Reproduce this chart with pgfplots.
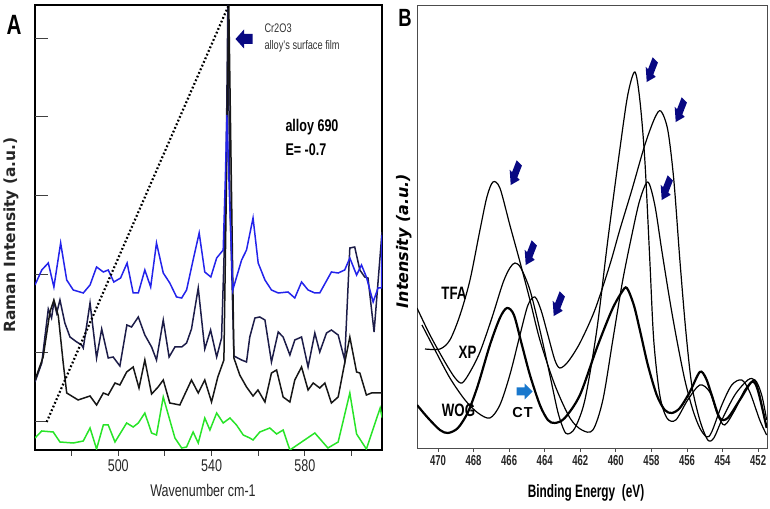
\documentclass[border=0pt]{standalone}
\usepackage{pgfplots}
\pgfplotsset{compat=1.18}
\usepackage{fontspec}
\setmainfont{Liberation Sans}
\newfontfamily\cn[FakeStretch=0.74]{Liberation Sans}
\newfontfamily\cnn[FakeStretch=0.66]{Liberation Sans}
\newfontfamily\djv{DejaVu Sans}
\definecolor{cblue}{RGB}{35,35,235}
\definecolor{cnavy}{RGB}{28,28,72}
\definecolor{cblack}{RGB}{22,22,22}
\definecolor{cgreen}{RGB}{40,228,40}
\definecolor{arrnavy}{RGB}{8,8,130}
\definecolor{arrlight}{RGB}{25,120,205}
\tikzset{
  navyarrow/.pic={\fill[arrnavy] (-13,-5) -- (1,-5) -- (1,-9.5) -- (13,0) -- (1,9.5) -- (1,5) -- (-13,5) -- cycle;},
  leftarrow/.pic={\fill[arrnavy] (8.5,-5) -- (0,-5) -- (0,-9.5) -- (-8.5,0) -- (0,9.5) -- (0,5) -- (8.5,5) -- cycle;},
  lightarrow/.pic={\fill[arrlight] (-8,-4) -- (0,-4) -- (0,-8) -- (8,0) -- (0,8) -- (0,4) -- (-8,4) -- cycle;}
}
\begin{document}
\begin{tikzpicture}[x=1bp,y=1bp]
\path[use as bounding box] (0,0) rectangle (770,509);
% ---------------- Panel A ----------------
\begin{axis}[at={(35bp,59bp)}, anchor=south west, scale only axis,
  width=347bp, height=445bp,
  xmin=464.3, xmax=613.1, ymin=0, ymax=445,
  axis line style={line width=1.3bp, black},
  xtick={480,500,...,600}, xticklabels={,500,,540,,580,},
  x tick label style={font=\cn\fontsize{17}{17}\selectfont, text=black!85},
  tick align=outside, xtick pos=left, ytick pos=left, major tick length=6bp,
  every tick/.style={black!75, line width=1bp},
  ytick=\empty,
  extra y ticks={28,97,175,254,333,411}, extra y tick labels={},
  extra y tick style={tick align=inside, major tick length=13bp},
  clip=true]
\addplot[cnavy, line width=1.5bp] coordinates {
(464.3,68)(467.2,87)(470.0,141)(471.4,132)(472.4,148)(473.6,137)(475.0,150)(477.1,127)(479.3,113)(482.2,108)(484.3,105)(485.0,102)(487.9,147)(490.7,92)(492.9,121)(495.7,92)(497.8,93)(500.7,84)(503.7,125)(505.7,123)(508.6,133)(511.4,115)(514.3,103)(516.4,90)(519.3,130)(521.8,93)(524.3,103)(527.2,103)(529.3,107)(531.4,121)(534.3,162)(537.1,101)(539.6,120)(542.2,93)(544.3,112)(546.1,250)(547.0,445)(547.9,250)(549.6,94)(552.9,90)(555.0,88)(556.4,113)(558.6,132)(560.7,133)(562.9,130)(565.7,88)(568.6,118)(570.7,113)(573.6,95)(575.7,110)(578.6,113)(581.4,83)(584.3,117)(586.4,98)(589.3,117)(591.4,120)(594.3,115)(597.1,90)(599.3,202)(601.4,203)(603.6,180)(605.7,173)(607.1,172)(609.7,118)(613.1,218)};
\addplot[cblack, line width=1.5bp] coordinates {
(464.3,70)(467.8,93)(470.7,138)(472.4,150)(474.3,134)(476.4,87)(477.9,57)(482.8,50)(487.9,54)(490.7,45)(493.6,57)(495.7,55)(498.6,67)(500.7,65)(503.6,78)(506.4,83)(508.9,62)(511.4,90)(514.3,56)(517.1,63)(519.3,70)(522.1,47)(526.4,45)(531.4,70)(534.3,57)(537.1,70)(540.0,48)(542.7,73)(545.3,90)(546.6,300)(547.4,445)(548.3,300)(549.6,92)(552.1,75)(555.0,63)(557.8,54)(559.9,60)(562.9,48)(565.7,77)(567.9,80)(570.7,53)(573.6,48)(575.7,70)(578.6,83)(581.4,60)(583.6,67)(586.4,62)(588.6,67)(591.4,47)(594.3,53)(597.1,87)(599.3,113)(602.2,78)(603.6,77)(606.4,55)(608.6,57)(613.1,57)};
\addplot[cblue, line width=1.5bp] coordinates {
(464.3,165)(467.2,180)(470.0,187)(472.4,163)(475.3,207)(477.9,170)(480.7,160)(485.0,157)(487.9,165)(490.7,183)(493.6,178)(495.7,180)(498.1,168)(501.0,172)(503.8,187)(506.4,157)(508.6,157)(511.4,180)(513.9,163)(516.4,207)(519.3,177)(522.1,167)(525.0,153)(527.2,152)(529.3,160)(532.1,190)(534.7,217)(537.1,178)(539.7,173)(542.2,192)(545.0,200)(545.9,270)(546.6,335)(547.6,260)(549.1,160)(552.9,190)(555.0,200)(557.8,232)(560.0,187)(562.9,170)(565.7,160)(568.6,157)(572.8,158)(575.7,152)(578.6,168)(581.4,160)(584.3,157)(586.4,157)(591.4,178)(594.3,177)(597.1,180)(599.3,192)(602.2,175)(604.3,185)(606.4,173)(609.3,148)(611.4,162)(612.9,162)(613.1,215)};
\addplot[cgreen, line width=1.5bp] coordinates {
(464.3,12)(467.2,19)(472.1,18)(475.0,8)(480.7,7)(485.0,9)(487.9,22)(490.7,1)(493.6,25)(495.7,25)(498.6,8)(503.6,27)(506.4,23)(508.6,27)(511.4,37)(514.3,17)(516.4,15)(519.3,53)(522.1,30)(524.3,12)(527.2,2)(529.3,3)(532.1,18)(534.3,7)(537.1,32)(539.3,20)(542.2,37)(545.0,27)(547.9,32)(550.7,25)(553.6,15)(556.4,12)(557.8,10)(560.7,18)(565.0,22)(567.9,16)(570.7,20)(573.6,0)(584.3,17)(589.9,2)(594.3,8)(599.3,57)(602.2,16)(606.4,1)(612.3,42)(613.2,32)};
\addplot[black, line width=2.2bp, dash pattern=on 1.8bp off 2.2bp] coordinates {(469.3,28)(547.4,445)};
\end{axis}
% ---------------- Panel B ----------------
\begin{axis}[at={(417bp,61bp)}, anchor=south west, scale only axis,
  width=350bp, height=443bp,
  xmin=451.5, xmax=471.18, x dir=reverse, ymin=0, ymax=443,
  ytick=\empty,
  xtick={452,454,...,470}, xticklabels={452,454,456,458,460,462,464,466,468,470},
  xtick pos=left, tick align=outside, major tick length=4bp,
  every tick/.style={black!70, line width=0.8bp},
  axis line style={black!70, line width=0.9bp},
  x tick label style={font=\cnn\bfseries\fontsize{14.5}{14.5}\selectfont, text=black!85},
  clip=true]
\addplot[black, line width=1.2bp, smooth] coordinates {
(471.18,140)(470.45,113)(469.61,86)(469.04,70)(468.65,65)(468.20,76)(467.64,96)(466.97,130)(466.35,165)(465.96,180)(465.67,185)(465.34,180)(464.83,158)(464.27,118)(463.71,73)(463.26,36)(462.92,18)(462.70,14)(462.30,20)(461.74,48)(461.07,118)(460.45,208)(459.78,298)(459.33,353)(458.93,376)(458.65,348)(458.37,288)(458.09,188)(457.87,108)(457.53,53)(457.13,30)(456.63,28)(455.96,48)(455.28,63)(454.72,56)(454.27,33)(453.88,23)(453.31,38)(452.75,58)(452.19,68)(451.80,53)(451.52,28)};
\addplot[black, line width=1.2bp, smooth] coordinates {
(470.90,123)(470.17,98)(469.33,70)(468.48,48)(467.75,35)(467.08,30)(466.52,43)(465.96,73)(465.39,113)(464.94,143)(464.55,151)(464.21,138)(463.82,113)(463.43,88)(463.15,80)(462.70,86)(462.02,105)(461.18,138)(460.34,183)(459.78,218)(459.10,258)(458.37,303)(457.81,330)(457.47,337)(457.08,318)(456.74,268)(456.40,188)(456.07,118)(455.73,63)(455.28,28)(454.83,8)(454.49,10)(454.04,28)(453.31,53)(452.58,68)(452.19,68)(451.91,53)(451.63,28)};
\addplot[black, line width=1.2bp, smooth] coordinates {
(470.73,99)(469.89,99)(469.33,108)(468.76,133)(468.20,168)(467.64,218)(467.25,251)(466.91,266)(466.52,260)(465.96,223)(465.39,186)(464.83,148)(464.27,108)(463.43,63)(462.58,30)(461.91,18)(461.29,18)(460.73,48)(460.17,108)(459.61,168)(459.04,218)(458.65,248)(458.20,266)(457.81,243)(457.42,198)(456.97,148)(456.57,108)(456.12,68)(455.67,38)(455.28,20)(454.89,11)(454.61,16)(454.04,43)(453.48,63)(452.92,68)(452.47,56)(451.91,28)(451.52,13)};
\addplot[black, line width=2.2bp, smooth] coordinates {
(471.18,43)(470.56,30)(469.89,18)(469.44,15)(468.88,20)(468.31,36)(467.75,63)(467.08,103)(466.52,130)(466.12,140)(465.73,133)(465.28,103)(464.83,73)(464.27,43)(463.82,28)(463.43,25)(462.87,30)(462.02,53)(461.07,100)(460.22,138)(459.66,156)(459.38,160)(458.99,143)(458.65,118)(458.20,83)(457.70,53)(457.25,38)(456.85,35)(456.40,40)(455.84,56)(455.28,76)(454.94,70)(454.61,53)(454.16,30)(453.71,30)(453.03,48)(452.36,66)(452.02,58)(451.52,20)};
\end{axis}
% ---------------- annotations ----------------
\node[font=\cn\bfseries\fontsize{28}{28}\selectfont] at (14,484) {A};
\node[font=\cn\bfseries\fontsize{25}{25}\selectfont] at (405,491) {B};
\node[anchor=west, font=\cn\fontsize{12.5}{13}\selectfont, text=black!80] at (261,481) {Cr2O3};
\node[anchor=west, font=\cn\fontsize{12.5}{13}\selectfont, text=black!80] at (261,463) {alloy’s surface film};
\pic at (244,470) {leftarrow};
\node[anchor=west, font=\cn\bfseries\fontsize{17}{17}\selectfont] at (282,382) {alloy 690};
\node[anchor=west, font=\cn\bfseries\fontsize{17}{17}\selectfont] at (282,359) {E= -0.7};
\node[rotate=90, font=\djv\bfseries\fontsize{15.5}{16}\selectfont, text=black!85] at (11,274) {Raman Intensity (a.u.)};
\node[font=\cn\fontsize{17}{17}\selectfont, text=black!85] at (203,19) {Wavenumber cm-1};
% panel B
\node[rotate=90, font=\djv\bfseries\itshape\fontsize{16}{16}\selectfont] at (404,268) {Intensity (a.u.)};
\node[font=\cnn\bfseries\fontsize{18}{18}\selectfont] at (586,16) {Binding Energy\ \ (eV)};
\node[font=\cn\bfseries\fontsize{18}{18}\selectfont] at (454,216) {TFA};
\node[font=\cn\bfseries\fontsize{18}{18}\selectfont] at (467.5,157) {XP};
\node[font=\cn\bfseries\fontsize{18}{18}\selectfont] at (458.5,98.5) {WOG};
\node[font=\bfseries\fontsize{14.5}{15}\selectfont] at (522.5,96) {C\kern1.2bp T};
\pic at (524.5,117.5) {lightarrow};
\foreach \p in {(515,335),(530,255),(558,204),(651,438),(680,398),(666,320)}{
  \pic[xscale=0.62, rotate=238] at \p {navyarrow};
}
\end{tikzpicture}
\end{document}
